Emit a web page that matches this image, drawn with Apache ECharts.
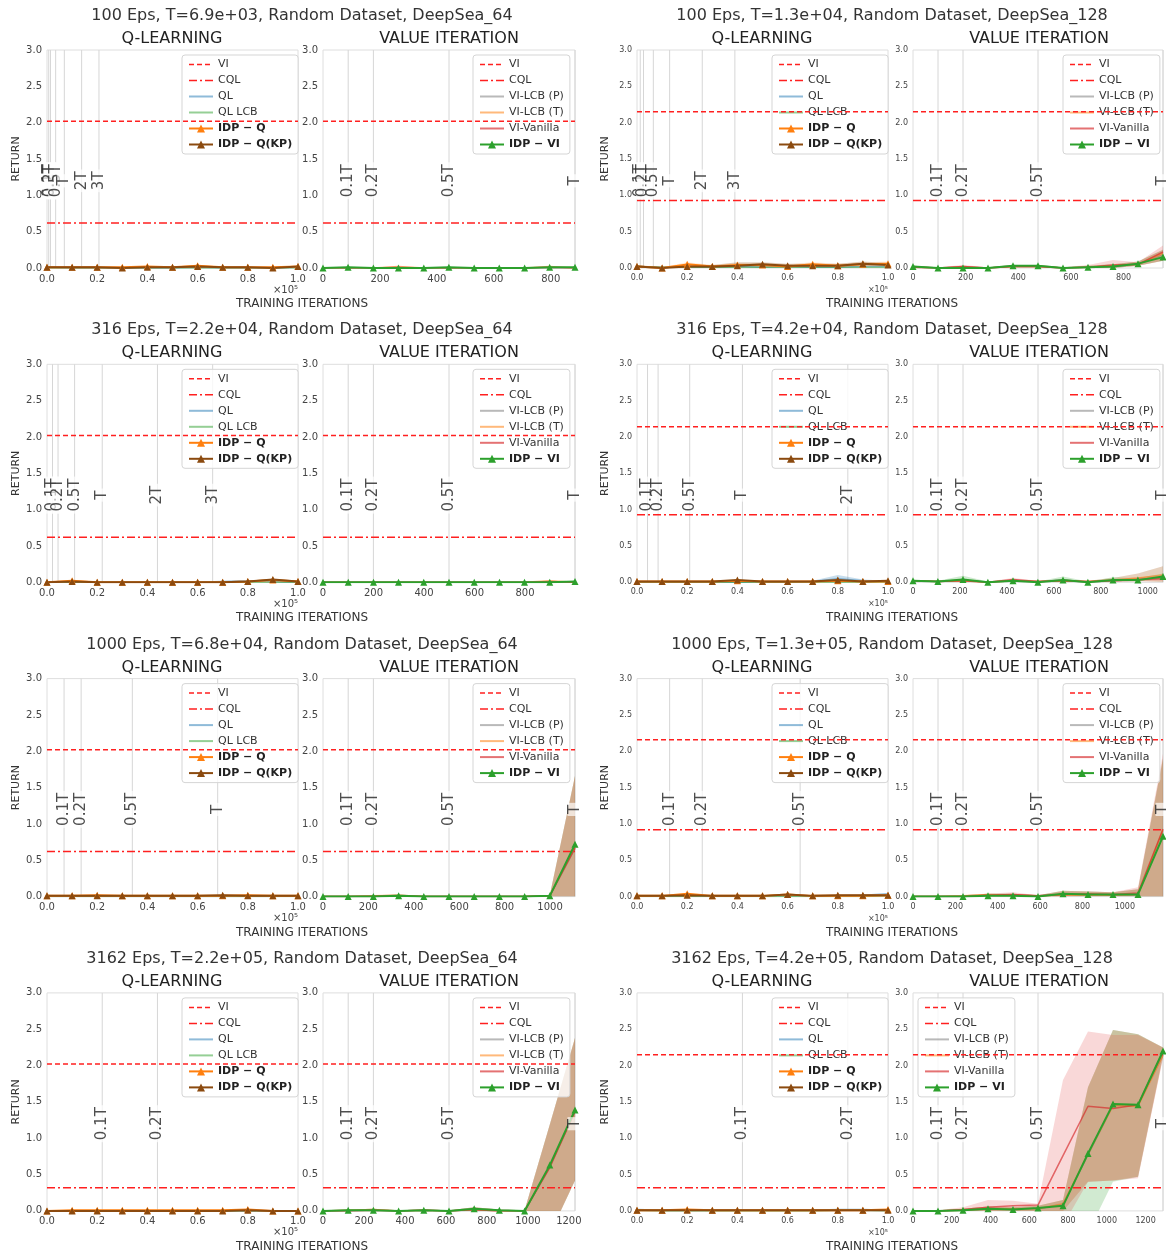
<!DOCTYPE html>
<html><head><meta charset="utf-8">
<script src="https://cdn.jsdelivr.net/npm/echarts@6/dist/echarts.min.js"></script>
<style>html,body{margin:0;padding:0;background:#fff}#c{width:1166px;height:1258px}</style>
</head><body><div id="c"></div>
<script>
// ---------------- DATA ----------------
const qX = [0, 0.1, 0.2, 0.3, 0.4, 0.5, 0.6, 0.7, 0.8, 0.9, 1.0];   // x10^5
const tMultQ = [0.1, 0.2, 0.5, 1, 2, 3];
const tLabQ = ['0.1T', '0.2T', '0.5T', 'T', '2T', '3T'];
const tMultVI = [0.1, 0.2, 0.5, 1];
const tLabVI = ['0.1T', '0.2T', '0.5T', 'T'];

const epsList = [100, 100, 316, 316, 1000, 1000, 3162, 3162];
const tText = ['6.9e+03', '1.3e+04', '2.2e+04', '4.2e+04', '6.8e+04', '1.3e+05', '2.2e+05', '4.2e+05'];
const envList = ['DeepSea_64', 'DeepSea_128', 'DeepSea_64', 'DeepSea_128', 'DeepSea_64', 'DeepSea_128', 'DeepSea_64', 'DeepSea_128'];
const tQ = [0.069, 0.13, 0.22, 0.42, 0.68, 1.3, 2.2, 4.2];      // T in units of 1e5
const tVI = [885, 950, 998, 1065, 1110, 1180, 1230, 1290];
const viRef = [2.02, 2.15, 2.02, 2.14, 2.02, 2.16, 2.02, 2.15];
const cqlRef = [0.62, 0.93, 0.62, 0.93, 0.62, 0.92, 0.32, 0.32];

const vx1 = [0, 88, 177, 265, 354, 442, 531, 619, 708, 796, 885];
const vx2 = [0, 95, 190, 285, 380, 475, 570, 665, 760, 855, 950];
const vx3 = [0, 100, 200, 299, 399, 499, 599, 699, 798, 898, 998];
const vx4 = [0, 106, 213, 319, 426, 532, 639, 745, 852, 958, 1065];
const vx5 = [0, 111, 222, 333, 444, 555, 666, 777, 888, 999, 1110];
const vx6 = [0, 118, 236, 354, 472, 590, 708, 826, 944, 1062, 1180];
const vx7 = [0, 123, 246, 369, 492, 615, 738, 861, 984, 1107, 1230];
const vx8 = [0, 129, 258, 387, 516, 645, 774, 903, 1032, 1161, 1290];

// Panel 1
const q1QL  = [0.01, 0, 0, 0, 0, 0, 0.01, 0, 0, 0, 0.01];
const q1LCB = [0, 0, 0, 0, 0, 0, 0, 0, 0, 0, 0];
const q1IDP = [0.01, 0.01, 0.01, 0.01, 0.02, 0.01, 0.03, 0.01, 0.01, 0.01, 0.02];
const q1KP  = [0.01, 0.01, 0.01, 0, 0.01, 0.01, 0.02, 0.01, 0.01, 0, 0.02];
const v1P   = [0, 0, 0, 0, 0, 0, 0, 0, 0, 0, 0];
const v1T   = [0, 0, 0, 0.02, 0, 0, 0, 0, 0, 0.02, 0];
const v1VAN = [0, 0, 0, 0.01, 0, 0, 0, 0, 0, 0.01, 0];
const v1IDP = [0, 0.01, 0, 0, 0, 0.01, 0, 0, 0, 0.01, 0.01];
// Panel 2
const q2QL  = [0.02, 0.01, 0.01, 0.01, 0.02, 0.01, 0.02, 0.01, 0.01, 0.02, 0.02];
const q2LCB = [0.02, 0.01, 0.01, 0.01, 0.01, 0.01, 0.01, 0.01, 0.01, 0.01, 0.01];
const q2IDP = [0.02, 0, 0.05, 0.02, 0.04, 0.04, 0.02, 0.05, 0.03, 0.05, 0.06];
const q2KP  = [0.02, 0, 0.02, 0.02, 0.03, 0.05, 0.03, 0.03, 0.03, 0.06, 0.04];
const q2IDPlo = [0, 0, 0.02, 0, 0.01, 0.01, 0, 0.02, 0.01, 0.02, 0.03];
const q2IDPhi = [0.04, 0.01, 0.08, 0.04, 0.07, 0.07, 0.05, 0.08, 0.06, 0.08, 0.09];
const q2KPlo  = [0, 0, 0, 0, 0.01, 0.02, 0.01, 0.01, 0.01, 0.03, 0.02];
const q2KPhi  = [0.04, 0.01, 0.05, 0.04, 0.08, 0.08, 0.06, 0.06, 0.06, 0.09, 0.07];
const v2P   = [0.01, 0, 0.01, 0, 0.02, 0.02, 0, 0.01, 0.02, 0.05, 0.18];
const v2T   = [0.01, 0, 0.01, 0, 0.02, 0.02, 0, 0.01, 0.03, 0.05, 0.2];
const v2VAN = [0.01, 0, 0.02, 0, 0.02, 0.02, 0, 0.01, 0.04, 0.05, 0.22];
const v2IDP = [0.02, 0, 0, 0, 0.03, 0.03, 0, 0.01, 0.02, 0.06, 0.15];
const v2Lo    = [0, 0, 0, 0, 0.01, 0.01, 0, 0, 0, 0.03, 0.1];
const v2Hi    = [0.03, 0.01, 0.03, 0.01, 0.04, 0.04, 0.01, 0.03, 0.05, 0.09, 0.25];
const v2VANhi = [0.03, 0.01, 0.04, 0.01, 0.04, 0.04, 0.01, 0.04, 0.11, 0.08, 0.31];
// Panel 3
const q3QL  = [0, 0, 0, 0, 0, 0, 0, 0.01, 0.02, 0.01, 0];
const q3LCB = [0, 0, 0, 0, 0, 0, 0, 0, 0, 0, 0];
const q3IDP = [0, 0.02, 0, 0, 0, 0, 0, 0, 0.01, 0.03, 0.01];
const q3KP  = [0, 0.01, 0, 0, 0, 0, 0, 0, 0.01, 0.04, 0.01];
const v3P   = [0, 0, 0, 0, 0, 0, 0, 0, 0, 0, 0];
const v3T   = [0, 0, 0, 0, 0, 0, 0, 0, 0, 0.02, 0];
const v3VAN = [0, 0, 0, 0, 0, 0, 0, 0, 0, 0.01, 0];
const v3IDP = [0, 0, 0, 0, 0, 0, 0, 0, 0, 0, 0.01];
// Panel 4
const q4QL  = [0, 0, 0, 0, 0, 0, 0, 0.01, 0.05, 0.02, 0.01];
const q4QLlo = [0, 0, 0, 0, 0, 0, 0, 0, 0.01, 0, 0];
const q4QLhi = [0, 0, 0, 0, 0, 0, 0, 0.02, 0.1, 0.04, 0.02];
const q4LCB = [0, 0, 0, 0, 0, 0, 0, 0, 0, 0, 0];
const q4IDP = [0.01, 0.01, 0.01, 0.01, 0.02, 0.01, 0.01, 0.01, 0.02, 0.01, 0.01];
const q4KP  = [0.01, 0.01, 0.01, 0.01, 0.03, 0.01, 0.01, 0.01, 0.03, 0.01, 0.02];
const v4P   = [0.02, 0.01, 0.03, 0, 0.02, 0.01, 0.03, 0, 0.02, 0.04, 0.07];
const v4T   = [0.02, 0.01, 0.02, 0, 0.02, 0.01, 0.02, 0.01, 0.03, 0.06, 0.1];
const v4VAN = [0.02, 0.01, 0.02, 0, 0.04, 0.01, 0.02, 0.01, 0.02, 0.04, 0.05];
const v4IDP = [0.02, 0.01, 0.04, 0, 0.02, 0, 0.03, 0, 0.03, 0.03, 0.08];
const v4GrLo = [0.01, 0, 0.01, 0, 0, 0, 0.01, 0, 0.01, 0.01, 0.05];
const v4GrHi = [0.03, 0.02, 0.09, 0.01, 0.04, 0.01, 0.08, 0.01, 0.07, 0.06, 0.12];
const v4OrLo = [0.01, 0, 0, 0, 0, 0, 0, 0, 0.01, 0.02, 0];
const v4OrHi = [0.03, 0.02, 0.04, 0.01, 0.04, 0.02, 0.04, 0.02, 0.06, 0.12, 0.22];
const v4RdLo = [0.01, 0, 0, 0, 0.02, 0, 0, 0, 0, 0.01, 0.02];
const v4RdHi = [0.03, 0.02, 0.04, 0.01, 0.06, 0.02, 0.04, 0.02, 0.04, 0.07, 0.09];
// Panel 5
const q5QL  = [0, 0, 0, 0, 0, 0, 0, 0, 0, 0, 0.01];
const q5LCB = [0, 0, 0, 0, 0, 0, 0, 0, 0, 0, 0];
const q5IDP = [0.01, 0.01, 0.02, 0.01, 0.01, 0.01, 0.01, 0.01, 0.02, 0.01, 0.01];
const q5KP  = [0.01, 0.01, 0.01, 0.01, 0.01, 0.01, 0.01, 0.02, 0.01, 0.01, 0.01];
const v5P   = [0, 0, 0.01, 0.01, 0, 0, 0, 0, 0, 0.01, 0.66];
const v5T   = [0, 0, 0.01, 0.02, 0, 0, 0, 0, 0, 0.01, 0.68];
const v5VAN = [0, 0, 0, 0.01, 0, 0, 0, 0, 0, 0.01, 0.67];
const v5IDP = [0, 0, 0, 0.01, 0, 0, 0, 0, 0, 0.01, 0.72];
const v5Lo  = [0, 0, 0, 0, 0, 0, 0, 0, 0, 0, -0.3];
const v5Hi  = [0.01, 0.01, 0.02, 0.03, 0.01, 0.01, 0.01, 0.01, 0.01, 0.02, 1.66];
// Panel 6
const q6QL  = [0.01, 0.01, 0.01, 0.01, 0.01, 0.01, 0.02, 0.01, 0.01, 0.02, 0.04];
const q6LCB = [0, 0, 0, 0, 0, 0, 0, 0, 0, 0, 0.01];
const q6IDP = [0.01, 0.01, 0.04, 0.01, 0.01, 0.01, 0.03, 0.01, 0.01, 0.01, 0.02];
const q6KP  = [0.01, 0.01, 0.02, 0.01, 0.01, 0.01, 0.03, 0.01, 0.02, 0.02, 0.02];
const v6P   = [0, 0, 0, 0.02, 0.02, 0.01, 0.03, 0.03, 0.02, 0.03, 0.9];
const v6T   = [0, 0, 0.01, 0.03, 0.02, 0.01, 0.02, 0.02, 0.02, 0.03, 0.92];
const v6VAN = [0, 0, 0, 0.02, 0.03, 0.01, 0.03, 0.04, 0.03, 0.05, 0.93];
const v6IDP = [0, 0, 0, 0.01, 0.01, 0, 0.04, 0.03, 0.03, 0.03, 0.83];
const v6Lo    = [0, 0, 0, 0, 0, 0, 0, 0, 0, 0, -0.15];
const v6Hi    = [0.01, 0.01, 0.02, 0.04, 0.04, 0.02, 0.08, 0.07, 0.06, 0.1, 1.9];
const v6VANhi = [0.01, 0.01, 0.02, 0.04, 0.06, 0.02, 0.07, 0.07, 0.06, 0.13, 1.97];
// Panel 7
const q7QL  = [0, 0, 0, 0, 0, 0, 0, 0, 0, 0, 0];
const q7LCB = [0, 0, 0, 0, 0, 0, 0, 0, 0, 0, 0];
const q7IDP = [0, 0.01, 0.01, 0.01, 0.01, 0.01, 0.01, 0.01, 0.02, 0, 0];
const q7KP  = [0, 0, 0, 0, 0, 0, 0, 0, 0.01, 0, 0];
const v7P   = [0, 0, 0.01, 0, 0.01, 0, 0.01, 0, 0, 0.6, 1.37];
const v7T   = [0, 0.01, 0.02, 0, 0.01, 0, 0.02, 0, 0, 0.61, 1.38];
const v7VAN = [0, 0, 0.01, 0, 0.01, 0, 0.02, 0, 0, 0.6, 1.37];
const v7IDP = [0, 0.01, 0.01, 0, 0.01, 0, 0.03, 0.01, 0, 0.63, 1.39];
const v7Lo  = [0, 0, 0, 0, 0, 0, 0, 0, 0, -0.32, 0.42];
const v7Hi  = [0.01, 0.02, 0.03, 0.01, 0.02, 0.01, 0.05, 0.02, 0.01, 1.19, 2.38];
// Panel 8
const q8QL  = [0.02, 0.01, 0.01, 0.01, 0.01, 0.01, 0.01, 0.01, 0.02, 0.02, 0.01];
const q8LCB = [0.01, 0, 0, 0, 0, 0, 0, 0, 0.01, 0.01, 0];
const q8IDP = [0.01, 0.01, 0.02, 0.01, 0.01, 0.01, 0.01, 0.01, 0.01, 0.01, 0.02];
const q8KP  = [0.01, 0.01, 0.01, 0.01, 0.01, 0.01, 0.01, 0.01, 0.01, 0.01, 0.01];
const v8P   = [0, 0, 0.01, 0.03, 0.03, 0.03, 0.09, 0.77, 1.45, 1.45, 2.15];
const v8T   = [0, 0, 0.01, 0.03, 0.03, 0.03, 0.1, 0.78, 1.45, 1.44, 2.14];
const v8VAN = [0, 0, 0.02, 0.05, 0.07, 0.08, 0.76, 1.44, 1.41, 1.46, 2.19];
const v8IDP = [0, 0, 0.01, 0.03, 0.02, 0.04, 0.07, 0.79, 1.47, 1.46, 2.2];
const v8Lo   = [0, 0, 0, 0, 0, 0, 0, 0.4, 0.42, 0.47, 2.12];
const v8Hi   = [0.01, 0.01, 0.03, 0.06, 0.05, 0.07, 0.15, 1.7, 2.49, 2.43, 2.25];
const v8GrLo = [0, 0, 0, 0, 0, 0, -0.05, -0.3, 0.4, 0.47, 2.15];
const v8RdLo = [0, 0, 0, 0, 0, 0, -0.2, 0.4, 0.42, 0.45, 2.1];
const v8RdHi = [0.01, 0.01, 0.05, 0.15, 0.14, 0.1, 1.8, 2.47, 2.42, 2.42, 2.25];

// ---------------- BUILD ----------------
const FONT = 'DejaVu Sans';
const COL = {
  red: '#ff2020', ql: 'rgba(31,119,180,0.5)', lcb: 'rgba(44,160,44,0.5)',
  idpq: '#ff7f0e', kp: '#8b4a0f', p: 'rgba(127,127,127,0.55)', t: 'rgba(255,127,14,0.55)',
  van: 'rgba(214,39,40,0.65)', idpvi: '#2ca02c'
};
const BAND = {
  red: 'rgba(225,70,70,0.21)', gray: 'rgba(127,127,127,0.22)', orange: 'rgba(255,127,14,0.17)',
  green: 'rgba(44,160,44,0.22)', blue: 'rgba(31,119,180,0.25)', brown: 'rgba(139,74,15,0.25)'
};
const MINUS = '\u2212';
const N = {
  vi: 'VI', cql: 'CQL', ql: 'QL', lcb: 'QL LCB', idpq: 'IDP ' + MINUS + ' Q', kp: 'IDP ' + MINUS + ' Q(KP)',
  p: 'VI-LCB (P)', t: 'VI-LCB (T)', van: 'VI-Vanilla', idpvi: 'IDP ' + MINUS + ' VI'
};
const DASH_VI = [5, 3], DASH_CQL = [8, 3, 2, 3];

const vxs = [vx1, vx2, vx3, vx4, vx5, vx6, vx7, vx8];
const qSer = [
  [q1QL, q1LCB, q1IDP, q1KP], [q2QL, q2LCB, q2IDP, q2KP], [q3QL, q3LCB, q3IDP, q3KP], [q4QL, q4LCB, q4IDP, q4KP],
  [q5QL, q5LCB, q5IDP, q5KP], [q6QL, q6LCB, q6IDP, q6KP], [q7QL, q7LCB, q7IDP, q7KP], [q8QL, q8LCB, q8IDP, q8KP]
];
const vSer = [
  [v1P, v1T, v1VAN, v1IDP], [v2P, v2T, v2VAN, v2IDP], [v3P, v3T, v3VAN, v3IDP], [v4P, v4T, v4VAN, v4IDP],
  [v5P, v5T, v5VAN, v5IDP], [v6P, v6T, v6VAN, v6IDP], [v7P, v7T, v7VAN, v7IDP], [v8P, v8T, v8VAN, v8IDP]
];
const qBands = [
  [],
  [{lo: q2IDPlo, hi: q2IDPhi, c: BAND.orange}, {lo: q2KPlo, hi: q2KPhi, c: BAND.brown}],
  [],
  [{lo: q4QLlo, hi: q4QLhi, c: BAND.blue}],
  [], [], [], []
];
// band drawing order: green, gray, red, orange
const vBands = [
  [],
  [{lo: v2Lo, hi: v2Hi, c: BAND.green}, {lo: v2Lo, hi: v2Hi, c: BAND.gray}, {lo: v2Lo, hi: v2VANhi, c: BAND.red}, {lo: v2Lo, hi: v2Hi, c: BAND.orange}],
  [],
  [{lo: v4GrLo, hi: v4GrHi, c: BAND.green}, {lo: v4OrLo, hi: v4OrHi, c: BAND.gray}, {lo: v4RdLo, hi: v4RdHi, c: BAND.red}, {lo: v4OrLo, hi: v4OrHi, c: BAND.orange}],
  [{lo: v5Lo, hi: v5Hi, c: BAND.green}, {lo: v5Lo, hi: v5Hi, c: BAND.gray}, {lo: v5Lo, hi: v5Hi, c: BAND.red}, {lo: v5Lo, hi: v5Hi, c: BAND.orange}],
  [{lo: v6Lo, hi: v6Hi, c: BAND.green}, {lo: v6Lo, hi: v6Hi, c: BAND.gray}, {lo: v6Lo, hi: v6VANhi, c: BAND.red}, {lo: v6Lo, hi: v6Hi, c: BAND.orange}],
  [{lo: v7Lo, hi: v7Hi, c: BAND.green}, {lo: v7Lo, hi: v7Hi, c: BAND.gray}, {lo: v7Lo, hi: v7Hi, c: BAND.red}, {lo: v7Lo, hi: v7Hi, c: BAND.orange}],
  [{lo: v8GrLo, hi: v8Hi, c: BAND.green}, {lo: v8Lo, hi: v8Hi, c: BAND.gray}, {lo: v8RdLo, hi: v8RdHi, c: BAND.red}, {lo: v8Lo, hi: v8Hi, c: BAND.orange}]
];
const viLegendRight = [true, true, true, true, true, true, true, false];

const option = {
  animation: false, backgroundColor: '#fff',
  grid: [], xAxis: [], yAxis: [], series: [], legend: [], graphic: []
};

function pts(xs, ys) { return xs.map((x, k) => [x, ys[k]]); }
function addBand(g, xs, b) {
  option.series.push({
    type: 'custom', xAxisIndex: g, yAxisIndex: g, z: 2, silent: true, clip: true,
    data: xs.map((x, k) => [x, b.lo[k], b.hi[k]]),
    encode: {x: 0, y: [1, 2]},
    renderItem: function (params, api) {
      if (params.dataIndex !== 0) return null;
      const up = xs.map((x, k) => api.coord([x, b.hi[k]]));
      const dn = xs.map((x, k) => api.coord([x, b.lo[k]])).reverse();
      const cs = params.coordSys;
      return {
        type: 'polygon', shape: {points: up.concat(dn)},
        style: {fill: b.c, stroke: null},
        clipPath: {type: 'rect', shape: {x: cs.x, y: cs.y, width: cs.width, height: cs.height}}
      };
    }
  });
}
function addLine(g, name, xs, ys, color, width, marker) {
  option.series.push({
    type: 'line', name, xAxisIndex: g, yAxisIndex: g, data: pts(xs, ys),
    symbol: marker ? 'triangle' : 'none', symbolSize: 7, showSymbol: !!marker,
    lineStyle: {color, width}, itemStyle: {color}, z: marker ? 5 : 3, emphasis: {disabled: true}
  });
}
function addHLines(g, xmax, i) {
  option.series.push({
    type: 'line', name: N.vi, xAxisIndex: g, yAxisIndex: g, data: [[0, viRef[i]], [xmax, viRef[i]]],
    symbol: 'none', lineStyle: {color: COL.red, width: 1.5, type: DASH_VI}, itemStyle: {color: COL.red}, z: 4, emphasis: {disabled: true}
  });
  option.series.push({
    type: 'line', name: N.cql, xAxisIndex: g, yAxisIndex: g, data: [[0, cqlRef[i]], [xmax, cqlRef[i]]],
    symbol: 'none', lineStyle: {color: COL.red, width: 1.5, type: DASH_CQL}, itemStyle: {color: COL.red}, z: 4, emphasis: {disabled: true}
  });
}
function addMarks(g, xs, labs, xmax) {
  const keep = [];
  xs.forEach((x, k) => { if (x <= xmax * 1.0005) keep.push({x, l: labs[k]}); });
  const d = [];
  keep.forEach(o => { d.push([o.x, 0], [o.x, 3], [o.x, '-']); });
  option.series.push({
    type: 'line', xAxisIndex: g, yAxisIndex: g, data: d, symbol: 'none', connectNulls: false,
    lineStyle: {color: '#d6d6d6', width: 1}, z: 1, silent: true, emphasis: {disabled: true}
  });
  option.series.push({
    type: 'scatter', xAxisIndex: g, yAxisIndex: g, clip: false, silent: true, z: 6,
    symbolSize: 1, itemStyle: {color: 'rgba(0,0,0,0)'},
    data: keep.map(o => ({name: o.l, value: [o.x, 1.2]})),
    label: {
      show: true, position: 'inside', rotate: 90, formatter: '{b}', fontSize: 15, fontFamily: FONT,
      color: '#222', backgroundColor: 'rgba(255,255,255,0.85)', padding: [0, 2]
    },
    emphasis: {disabled: true}
  });
}
function legItem(name, type) {
  const it = {name};
  if (type === 'vi') it.lineStyle = {type: DASH_VI, width: 1.5};
  if (type === 'cql') it.lineStyle = {type: DASH_CQL, width: 1.5};
  if (type !== 'idp') it.itemStyle = {opacity: 0};
  return it;
}
function legendCfg(left, top, names) {
  return {
    orient: 'vertical', left, top, padding: [3, 6, 3, 6], itemGap: 3, itemWidth: 24, itemHeight: 10,
    backgroundColor: 'rgba(255,255,255,0.8)', borderColor: '#d5d5d5', borderWidth: 1, borderRadius: 3,
    selectedMode: false,
    textStyle: {fontSize: 11, color: '#333', fontFamily: FONT, lineHeight: 13,
      rich: {b: {fontWeight: 'bold', fontSize: 11, fontFamily: FONT, color: '#222', lineHeight: 13}}},
    formatter: n => n.indexOf('IDP') === 0 ? '{b|' + n + '}' : n,
    data: names
  };
}
function txt(x, y, text, size, align, color) {
  option.graphic.push({type: 'text', x, y, silent: true,
    style: {text, fontSize: size, fontFamily: FONT, fill: color || '#333', align: align || 'center', verticalAlign: 'middle'}});
}

for (let i = 0; i < 8; i++) {
  const r = Math.floor(i / 2), c = i % 2, ox = c * 590, oy = r * 314.3;
  const fs = c ? 8 : 10;
  const gq = 2 * i, gv = 2 * i + 1;
  option.grid.push({left: 47 + ox, top: 50 + oy, width: 251, height: 218, show: true, borderColor: '#dedede', borderWidth: 1});
  option.grid.push({left: 323 + ox, top: 50 + oy, width: 252, height: 218, show: true, borderColor: '#dedede', borderWidth: 1});
  const axLab = {fontSize: fs, color: '#444', fontFamily: FONT, margin: 6};
  option.xAxis.push({gridIndex: gq, type: 'value', min: 0, max: 1, interval: 0.2,
    axisLine: {show: false}, axisTick: {show: false}, splitLine: {show: false},
    axisLabel: Object.assign({}, axLab, {formatter: v => v.toFixed(1)})});
  option.xAxis.push({gridIndex: gv, type: 'value', min: 0, max: tVI[i], interval: 200,
    axisLine: {show: false}, axisTick: {show: false}, splitLine: {show: false},
    axisLabel: Object.assign({}, axLab, {formatter: v => (Math.abs(v / 200 - Math.round(v / 200)) < 1e-6 ? String(Math.round(v)) : '')})});
  const yBase = {type: 'value', min: 0, max: 3, interval: 0.5,
    axisLine: {show: false}, axisTick: {show: false}, splitLine: {show: false},
    axisLabel: Object.assign({}, axLab, {margin: 5, formatter: v => v.toFixed(1)})};
  option.yAxis.push(Object.assign({gridIndex: gq, name: 'RETURN', nameLocation: 'middle', nameGap: c ? 26 : 25,
    nameTextStyle: {fontSize: 11, color: '#333', fontFamily: FONT}}, yBase));
  option.yAxis.push(Object.assign({gridIndex: gv}, yBase));

  addMarks(gq, tMultQ.map(m => m * tQ[i]), tLabQ, 1.0);
  addMarks(gv, tMultVI.map(m => m * tVI[i]), tLabVI, tVI[i]);
  qBands[i].forEach(b => addBand(gq, qX, b));
  vBands[i].forEach(b => addBand(gv, vxs[i], b));
  addHLines(gq, 1, i);
  addHLines(gv, tVI[i], i);
  const qs = qSer[i];
  addLine(gq, N.ql, qX, qs[0], COL.ql, 1.5, false);
  addLine(gq, N.lcb, qX, qs[1], COL.lcb, 1.5, false);
  addLine(gq, N.idpq, qX, qs[2], COL.idpq, 2, true);
  addLine(gq, N.kp, qX, qs[3], COL.kp, 2, true);
  const vs = vSer[i];
  addLine(gv, N.p, vxs[i], vs[0], COL.p, 1.5, false);
  addLine(gv, N.t, vxs[i], vs[1], COL.t, 1.5, false);
  addLine(gv, N.van, vxs[i], vs[2], COL.van, 1.5, false);
  addLine(gv, N.idpvi, vxs[i], vs[3], COL.idpvi, 2, true);

  option.legend.push(legendCfg(182 + ox, 55 + oy, [legItem(N.vi, 'vi'), legItem(N.cql, 'cql'), legItem(N.ql), legItem(N.lcb), legItem(N.idpq, 'idp'), legItem(N.kp, 'idp')]));
  option.legend.push(legendCfg((viLegendRight[i] ? 473 : 328) + ox, 55 + oy, [legItem(N.vi, 'vi'), legItem(N.cql, 'cql'), legItem(N.p), legItem(N.t), legItem(N.van), legItem(N.idpvi, 'idp')]));

  txt(302 + ox, 16 + oy, epsList[i] + ' Eps, T=' + tText[i] + ', Random Dataset, ' + envList[i], 16, 'center', '#333');
  txt(172 + ox, 39 + oy, 'Q-LEARNING', 16, 'center', '#222');
  txt(449 + ox, 39 + oy, 'VALUE ITERATION', 16, 'center', '#222');
  txt(302 + ox, 304 + oy, 'TRAINING ITERATIONS', 12, 'center', '#333');
  txt(298 + ox, 290 + oy, '\u00d710\u2075', c ? 8 : 10, 'right', '#444');
}

const chart = echarts.init(document.getElementById('c'), null, {renderer: 'canvas'});
chart.setOption(option);
</script></body></html>
